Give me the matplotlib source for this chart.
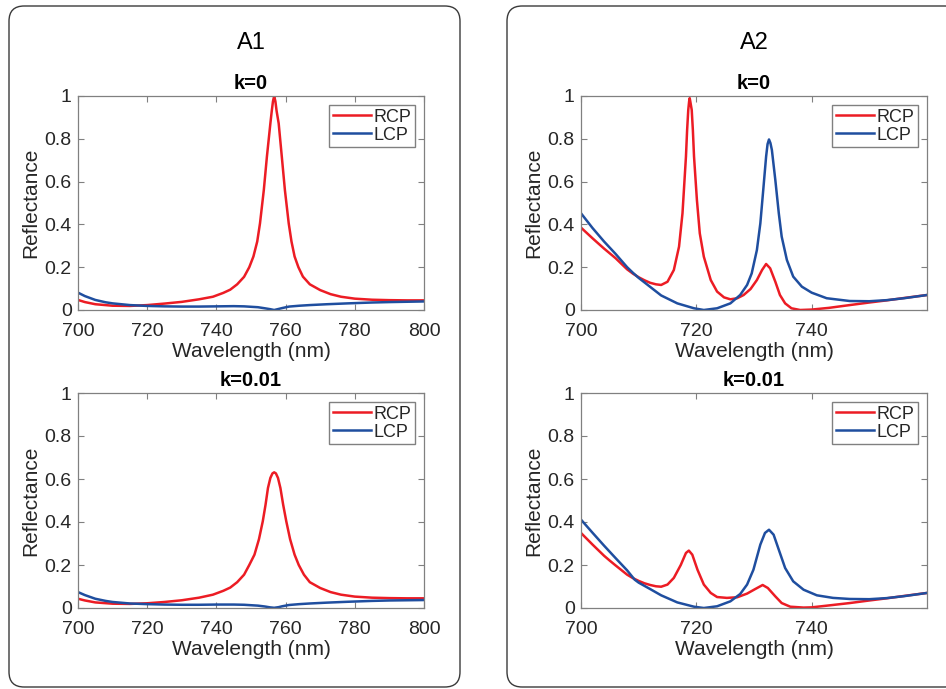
import matplotlib
matplotlib.use("Agg")
from matplotlib import pyplot as plt
from matplotlib.patches import FancyBboxPatch

plt.rcParams['font.family'] = ['Liberation Sans', 'DejaVu Sans']

############## Data ##############

# A1, k=0
wl_a1_k0_rcp = [700, 702, 705, 710, 715, 720, 725, 730, 735, 739, 742, 744, 746, 748, 749.5,
                750.7, 751.8, 752.6, 753.7, 754.6, 755.6, 756.0, 756.35, 756.7, 757.05, 757.4,
                758, 758.9, 759.8, 760.9, 761.7, 762.6, 763.7, 765, 767, 770, 773, 776, 780,
                785, 790, 795, 800]
a1_k0_rcp = [0.047, 0.037, 0.027, 0.020, 0.019, 0.023, 0.030, 0.038, 0.050, 0.062, 0.080, 0.095,
             0.120, 0.155, 0.200, 0.250, 0.320, 0.405, 0.560, 0.717, 0.872, 0.930, 0.975, 1.000,
             0.975, 0.930, 0.872, 0.717, 0.560, 0.405, 0.320, 0.250, 0.200, 0.156, 0.120, 0.093,
             0.074, 0.062, 0.053, 0.048, 0.046, 0.045, 0.045]
wl_a1_k0_lcp = [700, 702, 705, 708, 710, 715, 720, 725, 730, 735, 740, 745, 748, 750, 752, 754,
                755.5, 756.7, 758, 759, 761, 764, 767, 772, 778, 785, 790, 800]
a1_k0_lcp = [0.081, 0.065, 0.047, 0.036, 0.031, 0.023, 0.019, 0.017, 0.016, 0.016, 0.017, 0.018,
             0.017, 0.015, 0.013, 0.008, 0.004, 0.000, 0.005, 0.009, 0.016, 0.020, 0.023, 0.027,
             0.031, 0.035, 0.037, 0.040]

# A1, k=0.01
wl_a1_k1_rcp = [700, 702, 705, 710, 715, 720, 725, 730, 735, 739, 742, 744, 746, 748, 749.5,
                751, 752.3, 753.4, 754.2, 754.9, 755.6, 756.2, 756.7, 757.2, 757.8, 758.5,
                759.3, 760.2, 761.3, 762.6, 763.8, 765.3, 767, 770, 773, 776, 780, 785, 790, 795, 800]
a1_k1_rcp = [0.043, 0.035, 0.026, 0.020, 0.019, 0.022, 0.028, 0.036, 0.048, 0.062, 0.080, 0.095,
             0.120, 0.155, 0.200, 0.248, 0.320, 0.403, 0.480, 0.558, 0.605, 0.626, 0.631, 0.626,
             0.605, 0.558, 0.480, 0.403, 0.320, 0.248, 0.200, 0.155, 0.120, 0.093, 0.074, 0.062,
             0.053, 0.048, 0.046, 0.045, 0.045]
wl_a1_k1_lcp = [700, 702, 705, 708, 710, 715, 720, 725, 730, 735, 740, 745, 748, 750, 752, 754,
                755.5, 756.7, 758, 759, 761, 764, 767, 772, 778, 785, 790, 800]
a1_k1_lcp = [0.074, 0.060, 0.043, 0.033, 0.028, 0.021, 0.018, 0.016, 0.015, 0.015, 0.016, 0.016,
             0.015, 0.013, 0.011, 0.007, 0.003, 0.001, 0.004, 0.008, 0.014, 0.018, 0.021, 0.025,
             0.029, 0.033, 0.035, 0.037]

# A2, k=0
wl_a2_k0_rcp = [700, 702, 704, 706, 708, 709, 710, 711, 712, 713, 713.9, 715, 716.1, 717, 717.6,
                718.2, 718.4, 718.6, 718.75, 718.85, 718.95, 719.2, 719.4, 719.6, 720.1, 720.6,
                721.3, 722.5, 723.6, 724.8, 725.9, 727.1, 728.2, 729.4, 730.5, 731.4, 732.1,
                732.8, 733.7, 734.5, 735.4, 736.5, 738, 740, 743, 746.6, 750, 753, 756, 760]
a2_k0_rcp = [0.385, 0.335, 0.287, 0.242, 0.190, 0.170, 0.153, 0.139, 0.127, 0.120, 0.117, 0.132,
             0.187, 0.296, 0.452, 0.717, 0.840, 0.935, 0.975, 0.990, 0.975, 0.935, 0.840, 0.717,
             0.514, 0.358, 0.249, 0.140, 0.086, 0.059, 0.050, 0.055, 0.070, 0.098, 0.140, 0.187,
             0.215, 0.195, 0.132, 0.070, 0.031, 0.008, 0.000, 0.002, 0.010, 0.023, 0.035, 0.045,
             0.056, 0.070]
wl_a2_k0_lcp = [700, 702, 704, 706, 708, 709, 710, 712, 713.9, 716.7, 719.6, 721.3, 723.6, 725.9,
                727.6, 728.8, 729.6, 730.5, 731.1, 731.6, 732.1, 732.35, 732.6, 732.85, 733.1,
                733.7, 734.3, 734.8, 735.7, 736.8, 738.3, 740, 742.6, 746.6, 750, 753, 756, 760]
a2_k0_lcp = [0.452, 0.383, 0.320, 0.262, 0.200, 0.174, 0.150, 0.108, 0.068, 0.031, 0.008, 0.000,
             0.008, 0.031, 0.070, 0.117, 0.171, 0.280, 0.405, 0.560, 0.717, 0.775, 0.797, 0.780,
             0.748, 0.607, 0.452, 0.343, 0.234, 0.156, 0.109, 0.081, 0.055, 0.042, 0.041, 0.046,
             0.055, 0.070]

# A2, k=0.01
wl_a2_k1_rcp = [700, 702, 704, 705, 706, 708, 709, 710, 711, 712, 713, 713.9, 715, 716.1, 717.3,
                718.2, 718.7, 719.3, 720.2, 721.3, 722.5, 723.6, 725.3, 727.1, 728.8, 730.2,
                731.5, 732.4, 733.7, 734.8, 736.3, 738.6, 740, 743, 746.6, 750, 753, 756, 760]
a2_k1_rcp = [0.349, 0.295, 0.243, 0.220, 0.198, 0.155, 0.139, 0.126, 0.115, 0.107, 0.101, 0.099,
             0.109, 0.140, 0.200, 0.256, 0.267, 0.248, 0.178, 0.109, 0.070, 0.051, 0.047, 0.050,
             0.067, 0.088, 0.107, 0.093, 0.054, 0.023, 0.006, 0.002, 0.003, 0.012, 0.023, 0.035,
             0.045, 0.056, 0.070]
wl_a2_k1_lcp = [700, 702, 704, 706, 708, 709.3, 710, 712, 713.9, 716.7, 719.6, 721.3, 723.6,
                725.9, 727.6, 728.8, 729.9, 731.1, 731.9, 732.6, 733.4, 734.3, 735.4, 736.8,
                738.6, 740.9, 743.7, 746.6, 750, 753, 756, 760]
a2_k1_lcp = [0.411, 0.350, 0.290, 0.232, 0.175, 0.132, 0.118, 0.088, 0.059, 0.026, 0.006, 0.000,
             0.008, 0.031, 0.065, 0.109, 0.178, 0.295, 0.349, 0.364, 0.341, 0.271, 0.186, 0.124,
             0.085, 0.059, 0.047, 0.042, 0.041, 0.046, 0.055, 0.070]

panel_titles = ['A1', 'A2']
k_titles = ['k=0', 'k=0.01']
y_ticks = [0, 0.2, 0.4, 0.6, 0.8, 1]
y_ticklabels = ['0', '0.2', '0.4', '0.6', '0.8', '1']
x_ticks_a1 = [700, 720, 740, 760, 780, 800]
x_ticks_a2 = [700, 720, 740]

RED = '#ec1c24'
BLUE = '#1f4e9f'
AX_GRAY = '#808080'
TXT = '#262626'

############## Figure ##############

W, H = 946, 689
fig = plt.figure(figsize=(W / 100, H / 100), dpi=100)


def px_box(x0, y0, x1, y1):
    # pixel box (top-left origin) -> figure fraction [left, bottom, width, height]
    return [x0 / W, 1 - y1 / H, (x1 - x0) / W, (y1 - y0) / H]


# rounded panel frames
for bx0, bx1 in [(9, 460), (507, 960)]:
    l, b, w, h = px_box(bx0, 6, bx1, 687)
    frame = FancyBboxPatch((l, b), w, h, transform=fig.transFigure,
                           boxstyle="round,pad=0,rounding_size=0.016",
                           mutation_aspect=W / H, facecolor='white',
                           edgecolor='#3a3a3a', linewidth=1.0, zorder=0)
    fig.add_artist(frame)

panels = [
    (78, 424, x_ticks_a1, (700, 800),
     [(wl_a1_k0_rcp, a1_k0_rcp, wl_a1_k0_lcp, a1_k0_lcp),
      (wl_a1_k1_rcp, a1_k1_rcp, wl_a1_k1_lcp, a1_k1_lcp)]),
    (581, 927, x_ticks_a2, (700, 760),
     [(wl_a2_k0_rcp, a2_k0_rcp, wl_a2_k0_lcp, a2_k0_lcp),
      (wl_a2_k1_rcp, a2_k1_rcp, wl_a2_k1_lcp, a2_k1_lcp)]),
]
rows = [(96, 310), (393, 608)]

for p, (x0, x1, xticks, xlim, series) in enumerate(panels):
    fig.text((x0 + x1) / 2 / W, 1 - 43 / H, panel_titles[p], ha='center', va='center',
             fontsize=17, color='black')
    for r, (y0, y1) in enumerate(rows):
        ax = fig.add_axes(px_box(x0, y0, x1, y1))
        wr, vr, wlc, vl = series[r]
        ax.plot(wr, vr, color=RED, lw=1.8, label='RCP')
        ax.plot(wlc, vl, color=BLUE, lw=1.8, label='LCP')
        ax.set_xlim(*xlim)
        ax.set_ylim(0, 1)
        ax.set_xticks(xticks)
        ax.set_yticks(y_ticks)
        ax.set_yticklabels(y_ticklabels)
        ax.tick_params(direction='in', top=True, right=True, length=4, width=0.8,
                       color=AX_GRAY, labelsize=14, labelcolor=TXT)
        ax.tick_params(axis='x', pad=9)
        ax.tick_params(axis='y', pad=4.5)
        for s in ax.spines.values():
            s.set_color(AX_GRAY)
            s.set_linewidth(0.9)
        ax.set_xlabel('Wavelength (nm)', fontsize=15, color=TXT, labelpad=2)
        ax.set_ylabel('Reflectance', fontsize=15, color=TXT, labelpad=3)
        ax.set_title(k_titles[r], fontsize=14.5, fontweight='bold', pad=5)
        leg = ax.legend(loc='upper right', fontsize=13, fancybox=False, framealpha=1,
                        edgecolor=AX_GRAY, borderpad=0.2, labelspacing=0.05,
                        handlelength=2.1, handletextpad=0.15, borderaxespad=0.5)
        leg.get_frame().set_linewidth(1.0)
        for t in leg.get_texts():
            t.set_color(TXT)

plt.savefig('out.png', dpi=100)
